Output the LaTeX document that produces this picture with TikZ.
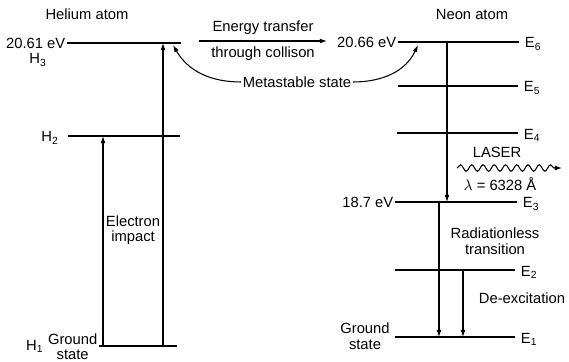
\documentclass[tikz,border=0pt]{standalone}
\usepackage{fontspec}
\setmainfont{Liberation Sans}
\usetikzlibrary{arrows.meta,positioning,decorations.pathmorphing}

\tikzset{
  level/.style={line width=0.9pt},
  trans/.style={line width=0.75pt,-{Latex[length=5pt,width=3.4pt]}},
  lbl/.style={inner sep=1pt,font=\fontsize{10.5}{11.5}\selectfont},
  two/.style={lbl,align=center,font=\fontsize{10.5}{11}\selectfont},
}

\begin{document}
\begin{tikzpicture}[x=0.025cm,y=-0.025cm]
  \useasboundingbox (0,0) rectangle (569,361);
  \node[lbl] (he) at (87,14) {Helium atom};
  \node[lbl] (ne) at (472,14) {Neon atom};
  \coordinate (h3l) at (67,43);  \coordinate (h3r) at (181,43);
  \coordinate (h2l) at (68,136); \coordinate (h2r) at (180,136);
  \coordinate (h1l) at (99,346); \coordinate (h1r) at (177,346);
  \draw[level] (h3l) -- (h3r);
  \draw[level] (h2l) -- (h2r);
  \draw[level] (h1l) -- (h1r);
  \node[lbl,left=0pt of h3l] (h3v) {20.61 eV};
  \node[lbl] (h3) at (38,60) {H\textsubscript{3}};
  \node[lbl] (h2) at (50,138) {H\textsubscript{2}};
  \node[two,font=\fontsize{10.5}{10}\selectfont,left=0pt of h1l,yshift=-0.5pt] (hgs) {Ground\\state};
  \node[lbl,left=1pt of hgs] (h1) {H\textsubscript{1}};
  \coordinate (pa) at (103,346); \coordinate (pa') at (103,136);
  \coordinate (pb) at (163,346); \coordinate (pb') at (163,43);
  \draw[trans] (pa) -- (pa');
  \draw[trans] (pb) -- (pb');
  \node[two] (imp) at (133,230) {Electron\\impact};
  \coordinate (ets) at (199,41); \coordinate (ete) at (327,41);
  \draw[trans] (ets) -- (ete)
    node[lbl,midway,above=3pt] (etr) {Energy transfer}
    node[lbl,midway,below=3pt] (col) {through collison};
  \coordinate (e6l) at (398,42);  \coordinate (e6r) at (519,42);
  \coordinate (e5l) at (398,86);  \coordinate (e5r) at (518,86);
  \coordinate (e4l) at (397,133); \coordinate (e4r) at (518,133);
  \coordinate (e3l) at (395,202); \coordinate (e3r) at (517,202);
  \coordinate (e2l) at (395,270); \coordinate (e2r) at (515,270);
  \coordinate (e1l) at (395,337); \coordinate (e1r) at (515,337);
  \foreach \k in {1,...,6}{
    \draw[level] (e\k l) -- (e\k r);
    \node[lbl,right=3pt of e\k r,yshift=-1.5pt] (e\k) {E\textsubscript{\k}};
  }
  \node[lbl,left=0pt of e6l] (e6v) {20.66 eV};
  \node[lbl,left=0pt of e3l] (e3v) {18.7 eV};
  \node[two] (ngs) at (365,336) {Ground\\state};
  \node[lbl] (meta) at (297,82) {Metastable state};
  \coordinate (mh) at (173,45); \coordinate (mn) at (418,45);
  \draw[trans] (meta.west) to[out=180,in=-60] (mh);
  \draw[trans] (meta.east) to[out=0,in=-115] (mn);
  \coordinate (d1) at (447,42);  \coordinate (d1') at (447,202);
  \coordinate (d2) at (439,202); \coordinate (d2') at (439,337);
  \coordinate (d3) at (463,270); \coordinate (d3') at (463,337);
  \draw[trans] (d1) -- (d1');
  \draw[trans] (d2) -- (d2');
  \draw[trans] (d3) -- (d3');
  \coordinate (ls) at (457,168); \coordinate (le) at (562,168);
  \draw[trans,decorate,decoration={snake,amplitude=2.3pt,segment length=8pt,post length=5pt}] (ls) -- (le);
  \node[lbl] (laser) at (497,152) {LASER};
  \node[lbl] (lam) at (500,184) {$\lambda$ = 6328 Å};
  \node[two] (rad) at (495,241) {Radiationless\\transition};
  \node[lbl] (dex) at (522,298) {De-excitation};
\end{tikzpicture}
\end{document}
